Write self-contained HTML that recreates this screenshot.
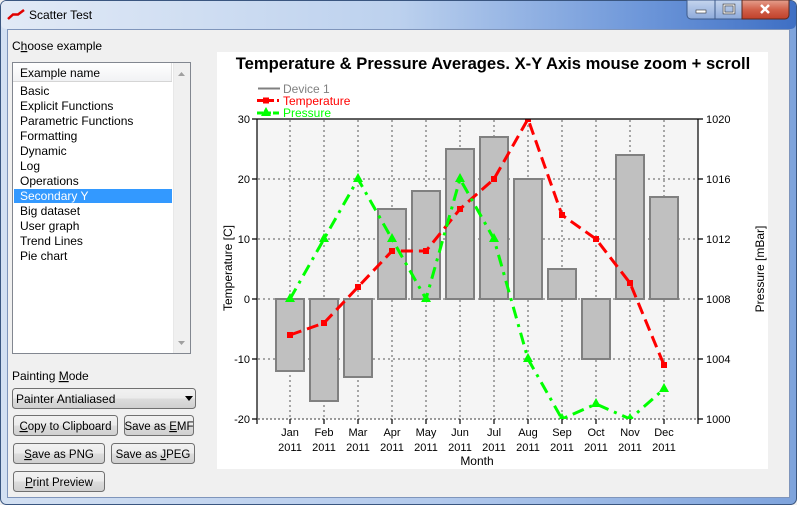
<!DOCTYPE html>
<html><head><meta charset="utf-8"><style>
html,body{margin:0;padding:0;background:#f0f0f0;}
svg{display:block;}
text{font-family:"Liberation Sans",Arial,sans-serif;}
</style></head><body>
<svg width="797" height="505" viewBox="0 0 797 505" xmlns="http://www.w3.org/2000/svg">
<defs>
<linearGradient id="frame" x1="0" y1="0" x2="1" y2="0">
<stop offset="0" stop-color="#d3e0f2"/><stop offset="0.55" stop-color="#b2c9ec"/><stop offset="1" stop-color="#7ea3dc"/>
</linearGradient>
<linearGradient id="tbar" x1="0" y1="0" x2="1" y2="0">
<stop offset="0" stop-color="#e2eaf6"/><stop offset="0.5" stop-color="#bcd1ee"/><stop offset="0.8" stop-color="#6f98da"/><stop offset="1" stop-color="#3e6fc4"/>
</linearGradient>
<linearGradient id="btn" x1="0" y1="0" x2="0" y2="1">
<stop offset="0" stop-color="#f2f2f2"/><stop offset="0.5" stop-color="#ebebeb"/><stop offset="0.5" stop-color="#dddddd"/><stop offset="1" stop-color="#cfcfcf"/>
</linearGradient>
<linearGradient id="wb" x1="0" y1="0" x2="0" y2="1">
<stop offset="0" stop-color="#c5d5ee"/><stop offset="1" stop-color="#8eaadb"/>
</linearGradient>
<linearGradient id="cb" x1="0" y1="0" x2="0" y2="1">
<stop offset="0" stop-color="#e5a08e"/><stop offset="0.5" stop-color="#d2614a"/><stop offset="1" stop-color="#c0402a"/>
</linearGradient>
<linearGradient id="hdr" x1="0" y1="0" x2="0" y2="1">
<stop offset="0" stop-color="#ffffff"/><stop offset="1" stop-color="#f1f2f4"/>
</linearGradient>
<clipPath id="plot"><rect x="257" y="119" width="441" height="300"/></clipPath>
</defs>

<!-- window frame -->
<rect x="0.5" y="0.5" width="796" height="504" rx="6" fill="url(#frame)" stroke="#3a5680"/>
<rect x="1" y="1" width="795" height="28" rx="5" fill="url(#tbar)"/>
<rect x="7.5" y="29.5" width="782" height="468" fill="#f0f0f0" stroke="#7f95bb"/>

<!-- title -->
<path d="M8,19 L13,14.5 L18,14.5 L24,10" fill="none" stroke="#e00000" stroke-width="2.5"/>
<text x="29" y="19" font-size="12" fill="#000">Scatter Test</text>

<!-- window buttons -->
<path d="M687,0 h55 v19 h-51 a4,4 0 0 1 -4,-4 z" fill="url(#wb)" stroke="#3d5a8a"/>
<line x1="715" y1="0" x2="715" y2="19" stroke="#3d5a8a"/>
<path d="M742,0 h47 v15 a4,4 0 0 1 -4,4 h-43 z" fill="url(#cb)" stroke="#5a2a20"/>
<rect x="696" y="10" width="10" height="3" fill="#fff" stroke="#333" stroke-width="0.6"/>
<rect x="724" y="5" width="10" height="8" fill="none" stroke="#333" stroke-width="2.5"/>
<rect x="724" y="5" width="10" height="8" fill="none" stroke="#fff" stroke-width="1.2"/>
<path d="M761,5 L769,13 M769,5 L761,13" stroke="#fff" stroke-width="2.5"/>

<!-- left panel -->
<text x="12" y="50" font-size="12" fill="#000">C<tspan text-decoration="underline">h</tspan>oose example</text>

<rect x="12.5" y="62.5" width="178" height="291" fill="#fff" stroke="#828790"/>
<rect x="13" y="63" width="159" height="18" fill="url(#hdr)"/>
<line x1="13" y1="81.5" x2="172" y2="81.5" stroke="#d5d5d5"/>
<line x1="171.5" y1="63" x2="171.5" y2="81" stroke="#e0e0e0"/>
<text x="20" y="77" font-size="12" fill="#000">Example name</text>
<rect x="173" y="63" width="17" height="290" fill="#f0f0f0"/>
<line x1="173.5" y1="63" x2="173.5" y2="353" stroke="#e8e8e8"/>
<path d="M178,76 L181.5,72 L185,76 z" fill="#a0a0a0"/>
<path d="M178,341 L181.5,345 L185,341 z" fill="#a0a0a0"/>
<rect x="14" y="189" width="158" height="14" fill="#3399ff"/>
<g font-size="12" fill="#000">
<text x="20" y="95">Basic</text>
<text x="20" y="110">Explicit Functions</text>
<text x="20" y="125">Parametric Functions</text>
<text x="20" y="140">Formatting</text>
<text x="20" y="155">Dynamic</text>
<text x="20" y="170">Log</text>
<text x="20" y="185">Operations</text>
<text x="20" y="200" fill="#fff">Secondary Y</text>
<text x="20" y="215">Big dataset</text>
<text x="20" y="230">User graph</text>
<text x="20" y="245">Trend Lines</text>
<text x="20" y="260">Pie chart</text>
</g>

<text x="12" y="380" font-size="12" fill="#000">Painting <tspan text-decoration="underline">M</tspan>ode</text>
<rect x="12.5" y="388.5" width="183" height="20" rx="3" fill="url(#btn)" stroke="#707070"/>
<text x="16" y="403" font-size="12" fill="#000">Painter Antialiased</text>
<path d="M185,396 L193,396 L189,401 z" fill="#000"/>

<g font-size="11.5" fill="#000" text-anchor="middle">
<rect x="13.5" y="415.5" width="104" height="20" rx="3" fill="url(#btn)" stroke="#707070"/>
<text x="65.5" y="430"><tspan text-decoration="underline">C</tspan>opy to Clipboard</text>
<rect x="124.5" y="415.5" width="69" height="20" rx="3" fill="url(#btn)" stroke="#707070"/>
<text x="159" y="430">Save as <tspan text-decoration="underline">E</tspan>MF</text>
<rect x="13.5" y="443.5" width="91" height="20" rx="3" fill="url(#btn)" stroke="#707070"/>
<text x="59" y="458"><tspan text-decoration="underline">S</tspan>ave as PNG</text>
<rect x="111.5" y="443.5" width="83" height="20" rx="3" fill="url(#btn)" stroke="#707070"/>
<text x="153" y="458">Save as <tspan text-decoration="underline">J</tspan>PEG</text>
<rect x="13.5" y="471.5" width="91" height="20" rx="3" fill="url(#btn)" stroke="#707070"/>
<text x="59" y="486"><tspan text-decoration="underline">P</tspan>rint Preview</text>
</g>

<!-- chart -->
<rect x="217" y="52" width="551" height="417" fill="#fff"/>
<text x="493" y="69" font-size="16.6" font-weight="bold" text-anchor="middle" fill="#000">Temperature &amp; Pressure Averages. X-Y Axis mouse zoom + scroll</text>

<!-- legend -->
<line x1="258" y1="88.5" x2="280" y2="88.5" stroke="#808080" stroke-width="2"/>
<text x="283" y="93" font-size="12" fill="#808080">Device 1</text>
<line x1="257" y1="100.5" x2="279" y2="100.5" stroke="#ff0000" stroke-width="3" stroke-dasharray="7,3"/>
<rect x="263" y="97.5" width="6" height="6" fill="#ff0000"/>
<text x="283" y="105" font-size="12" fill="#ff0000">Temperature</text>
<line x1="257" y1="113" x2="279" y2="113" stroke="#00ff00" stroke-width="3" stroke-dasharray="6,2"/>
<path d="M266,107 L271,116 L261,116 z" fill="#00ff00"/>
<text x="283" y="117" font-size="12" fill="#00ff00">Pressure</text>

<!-- plot bg -->
<rect x="257" y="119" width="441" height="300" fill="#f5f5f5"/>

<!-- grid -->
<g stroke="#a6a6a6" stroke-width="2" stroke-dasharray="2,3">
<path d="M290,120V419 M324,120V419 M358,120V419 M392,120V419 M426,120V419 M460,120V419 M494,120V419 M528,120V419 M562,120V419 M596,120V419 M630,120V419 M664,120V419"/>
<path d="M258,179H697 M258,239H697 M258,299H697 M258,359H697"/>
</g>
<line x1="258" y1="419" x2="698" y2="419" stroke="#7a7a7a" stroke-width="1.5" stroke-dasharray="2,2"/>

<!-- bars -->
<g fill="#c0c0c0" stroke="#808080" stroke-width="2">
<rect x="276" y="299" width="28" height="72"/>
<rect x="310" y="299" width="28" height="102"/>
<rect x="344" y="299" width="28" height="78"/>
<rect x="378" y="209" width="28" height="90"/>
<rect x="412" y="191" width="28" height="108"/>
<rect x="446" y="149" width="28" height="150"/>
<rect x="480" y="137" width="28" height="162"/>
<rect x="514" y="179" width="28" height="120"/>
<rect x="548" y="269" width="28" height="30"/>
<rect x="582" y="299" width="28" height="60"/>
<rect x="616" y="155" width="28" height="144"/>
<rect x="650" y="197" width="28" height="102"/>
</g>

<g clip-path="url(#plot)">
<!-- temperature -->
<polyline points="290,335 324,323 358,287 392,251 426,251 460,209 494,179 528,119 562,215 596,239 630,283 664,365" fill="none" stroke="#ff0000" stroke-width="3" stroke-dasharray="12,6"/>
<g fill="#ff0000">
<rect x="287" y="332" width="6" height="6"/>
<rect x="321" y="320" width="6" height="6"/>
<rect x="355" y="284" width="6" height="6"/>
<rect x="389" y="248" width="6" height="6"/>
<rect x="423" y="248" width="6" height="6"/>
<rect x="457" y="206" width="6" height="6"/>
<rect x="491" y="176" width="6" height="6"/>
<rect x="525" y="116" width="6" height="6"/>
<rect x="559" y="212" width="6" height="6"/>
<rect x="593" y="236" width="6" height="6"/>
<rect x="627" y="280" width="6" height="6"/>
<rect x="661" y="362" width="6" height="6"/>
</g>
<!-- pressure -->
<polyline points="290,299 324,239 358,179 392,239 426,299 460,179 494,239 528,359 562,419 596,404 630,419 664,389" fill="none" stroke="#00ff00" stroke-width="3" stroke-dasharray="12,6,3,6"/>
<g fill="#00ff00">
<path d="M290,293 L295,302 L285,302 z"/>
<path d="M324,233 L329,242 L319,242 z"/>
<path d="M358,173 L363,182 L353,182 z"/>
<path d="M392,233 L397,242 L387,242 z"/>
<path d="M426,293 L431,302 L421,302 z"/>
<path d="M460,173 L465,182 L455,182 z"/>
<path d="M494,233 L499,242 L489,242 z"/>
<path d="M528,353 L533,362 L523,362 z"/>
<path d="M562,413 L567,422 L557,422 z"/>
<path d="M596,398 L601,407 L591,407 z"/>
<path d="M630,413 L635,422 L625,422 z"/>
<path d="M664,383 L669,392 L659,392 z"/>
</g>
</g>

<!-- axes -->
<g stroke="#000" stroke-width="1.2" fill="none">
<line x1="257" y1="119" x2="698" y2="119"/>
<line x1="257" y1="119" x2="257" y2="424"/>
<line x1="698" y1="119" x2="698" y2="424"/>
<path d="M252,119H257 M252,179H257 M252,239H257 M252,299H257 M252,359H257 M252,419H257"/>
<path d="M698,119H703 M698,179H703 M698,239H703 M698,299H703 M698,359H703 M698,419H703"/>
<path d="M290,419V424 M324,419V424 M358,419V424 M392,419V424 M426,419V424 M460,419V424 M494,419V424 M528,419V424 M562,419V424 M596,419V424 M630,419V424 M664,419V424"/>
</g>

<!-- left labels -->
<g font-size="11" fill="#000" text-anchor="end">
<text x="250" y="123">30</text>
<text x="250" y="183">20</text>
<text x="250" y="243">10</text>
<text x="250" y="303">0</text>
<text x="250" y="363">-10</text>
<text x="250" y="423">-20</text>
</g>
<!-- right labels -->
<g font-size="11" fill="#000">
<text x="706" y="123">1020</text>
<text x="706" y="183">1016</text>
<text x="706" y="243">1012</text>
<text x="706" y="303">1008</text>
<text x="706" y="363">1004</text>
<text x="706" y="423">1000</text>
</g>
<!-- month labels -->
<g font-size="11" fill="#000" text-anchor="middle">
<text x="290" y="436">Jan</text><text x="290" y="451">2011</text>
<text x="324" y="436">Feb</text><text x="324" y="451">2011</text>
<text x="358" y="436">Mar</text><text x="358" y="451">2011</text>
<text x="392" y="436">Apr</text><text x="392" y="451">2011</text>
<text x="426" y="436">May</text><text x="426" y="451">2011</text>
<text x="460" y="436">Jun</text><text x="460" y="451">2011</text>
<text x="494" y="436">Jul</text><text x="494" y="451">2011</text>
<text x="528" y="436">Aug</text><text x="528" y="451">2011</text>
<text x="562" y="436">Sep</text><text x="562" y="451">2011</text>
<text x="596" y="436">Oct</text><text x="596" y="451">2011</text>
<text x="630" y="436">Nov</text><text x="630" y="451">2011</text>
<text x="664" y="436">Dec</text><text x="664" y="451">2011</text>
<text x="477" y="465" font-size="12">Month</text>
</g>
<!-- axis titles -->
<text transform="translate(232,268) rotate(-90)" font-size="12" text-anchor="middle" fill="#000">Temperature [C]</text>
<text transform="translate(764,269) rotate(-90)" font-size="12" text-anchor="middle" fill="#000">Pressure [mBar]</text>
</svg>
</body></html>
